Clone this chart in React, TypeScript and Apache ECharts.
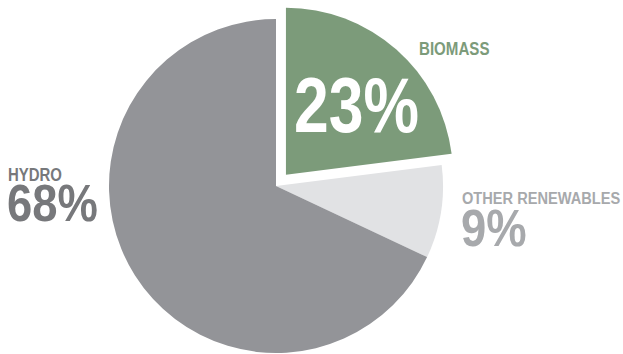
import React, { useEffect, useRef } from "react";
import * as echarts from "echarts";

const categories = ["Biomass", "Other Renewables", "Hydro"];
const values = [23, 9, 68];
const sliceColors = ["#7c9b7a", "#e1e2e4", "#939498"];
const labelColors = ["#7c9b7a", "#a7a9ac", "#77787b"];
const percentColors = ["#ffffff", "#a7a9ac", "#77787b"];

const FONT = '"Liberation Sans", Arial, sans-serif';

export default function App() {
  const ref = useRef<HTMLDivElement>(null);
  useEffect(() => {
    if (!ref.current) return;
    const chart = echarts.init(ref.current, undefined, { renderer: "svg" });
    // label layout: [nameX, nameY, nameSize, nameScale, pctX, pctY, pctSize, pctScale]
    const layout = [
      [419, 40, 18, 0.84, 294, 66, 78, 0.8],
      [462, 190, 17, 0.86, 461, 203, 51, 0.89],
      [8, 166, 18, 0.83, 7, 178, 51, 0.89],
    ];
    const graphics: any[] = [];
    categories.forEach((c, i) => {
      const L = layout[i];
      graphics.push({
        type: "text",
        x: L[0],
        y: L[1],
        scaleX: L[3],
        z: 10,
        style: {
          text: c.toUpperCase(),
          font: `bold ${L[2]}px ${FONT}`,
          fill: labelColors[i],
          verticalAlign: "top",
          align: "left",
        },
      });
      graphics.push({
        type: "text",
        x: L[4],
        y: L[5],
        scaleX: L[7],
        z: 10,
        style: {
          text: `${values[i]}%`,
          font: `bold ${L[6]}px ${FONT}`,
          fill: percentColors[i],
          verticalAlign: "top",
          align: "left",
        },
      });
    });
    chart.setOption({
      animation: false,
      backgroundColor: "#ffffff",
      graphic: graphics,
      series: [
        {
          type: "pie",
          center: [276, 186],
          radius: 167,
          startAngle: 90,
          clockwise: true,
          selectedMode: "single",
          selectedOffset: 15,
          label: { show: false },
          labelLine: { show: false },
          emphasis: { disabled: true },
          itemStyle: { borderWidth: 0 },
          data: categories.map((c, i) => ({
            name: c,
            value: values[i],
            selected: i === 0,
            itemStyle: { color: sliceColors[i] },
          })),
        },
      ],
    });
    return () => chart.dispose();
  }, []);
  return (
    <div
      ref={ref}
      style={{ position: "fixed", left: 0, top: 0, width: 623, height: 354 }}
    />
  );
}
